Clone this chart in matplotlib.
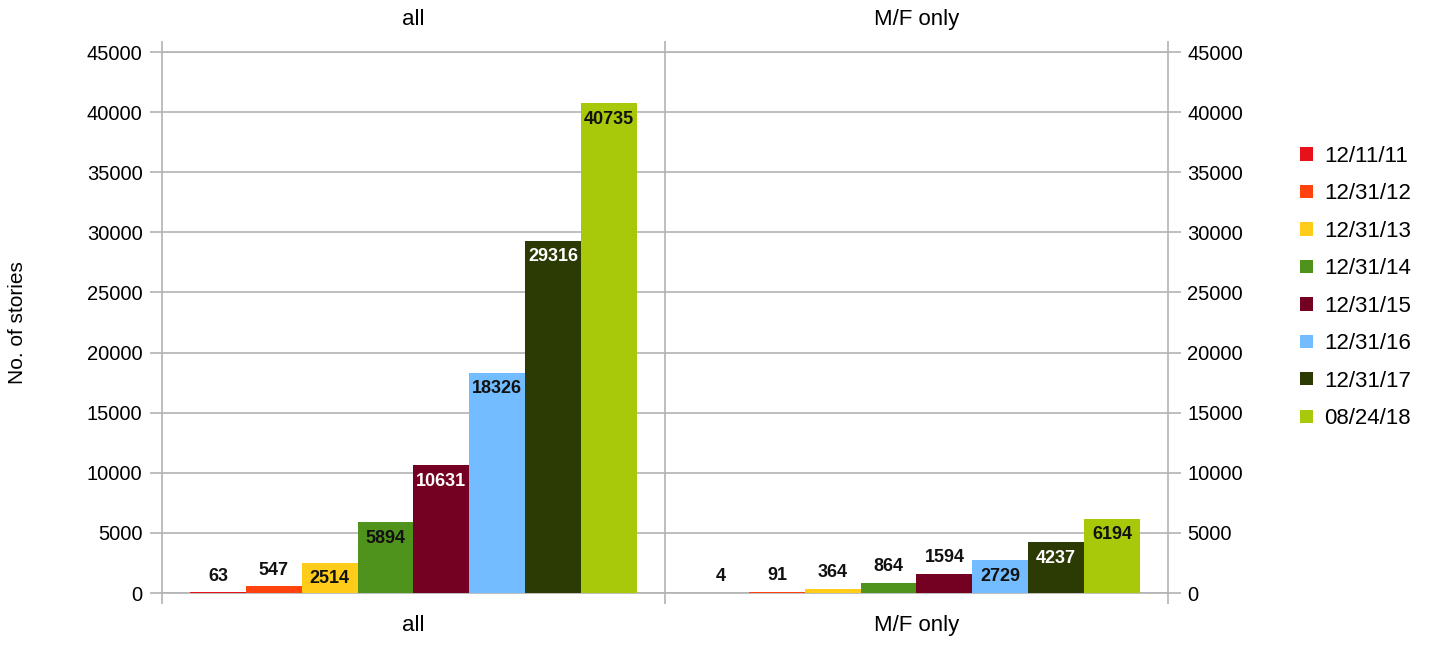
import numpy as np
import matplotlib.pyplot as plt

plt.rcParams['font.family'] = ['Liberation Sans', 'DejaVu Sans']

categories = ['all', 'M/F only']
dates = ['12/11/11', '12/31/12', '12/31/13', '12/31/14',
         '12/31/15', '12/31/16', '12/31/17', '08/24/18']
stories_all = [63, 547, 2514, 5894, 10631, 18326, 29316, 40735]
stories_mf = [4, 91, 364, 864, 1594, 2729, 4237, 6194]

colors = ['#e8101a', '#ff420e', '#ffcc1a', '#50931c',
          '#740022', '#72bcff', '#2c3a04', '#a8c80a']
label_white = [False, False, False, False, True, False, True, False]

grid_col = '#b3b3b3'

fig = plt.figure(figsize=(14.42, 6.46), dpi=100)
ax = fig.add_axes([0.1123, 0.082, 0.6977, 0.8375])

n = len(dates)
width = 0.111
x = np.arange(len(categories))

for i in range(n):
    vals = [stories_all[i], stories_mf[i]]
    pos = x + (i - (n - 1) / 2) * width
    ax.bar(pos, vals, width, color=colors[i], label=dates[i], zorder=3)
    for p, v in zip(pos, vals):
        # tall bars get the label inside the top, short ones above it
        if v >= 2000:
            off = -16
            col = 'white' if label_white[i] else '#111111'
        else:
            off = 16
            col = '#111111'
        ax.annotate(str(v), (p, v), xytext=(0, off * 0.72), textcoords='offset points',
                    ha='center', va='center', fontsize=13, fontweight='bold',
                    color=col, zorder=5)

ax.set_xlim(-0.5, 1.5)
ax.set_ylim(0, 45000)
ax.set_yticks(np.arange(0, 45001, 5000))
ax.yaxis.grid(True, color=grid_col, linewidth=1.2, zorder=0)
ax.axvline(0.5, color=grid_col, linewidth=1.2, zorder=1)

ax.set_xticks([-0.5, 0.5, 1.5])
ax.set_xticklabels(['', '', ''])
ax.set_xticks(x, minor=True)
ax.set_xticklabels(categories, minor=True)
ax.tick_params(axis='x', which='major', direction='out', length=8, width=1.2,
               color=grid_col, top=True, bottom=True)
ax.tick_params(axis='x', which='minor', length=0, pad=16, labelsize=16,
               top=True, labeltop=True, labelbottom=True)
ax.tick_params(axis='y', direction='out', length=9, width=1.2, color=grid_col,
               labelsize=14.5, pad=5, left=True, right=True, labelright=True)

for s in ax.spines.values():
    s.set_color(grid_col)
    s.set_linewidth(1.2)

ax.set_ylabel('No. of stories', fontsize=15)
ax.yaxis.set_label_coords(-0.134, 0.5)

ax.legend(loc='upper left', bbox_to_anchor=(0.888, 0.805), bbox_transform=fig.transFigure,
          frameon=False, fontsize=16, handlelength=0.55, handleheight=0.55,
          handletextpad=0.5, labelspacing=0.74)

fig.savefig('out.png', dpi=100)
